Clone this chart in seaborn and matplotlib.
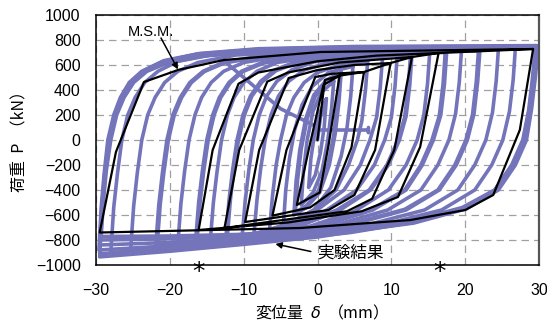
import matplotlib
matplotlib.use("Agg")
import matplotlib.pyplot as plt
import pandas as pd
import seaborn as sns

# ---------------- data ----------------
x_ticks = [-30, -20, -10, 0, 10, 20, 30]
y_ticks = [-1000, -800, -600, -400, -200, 0, 200, 400, 600, 800, 1000]

# experimental hysteresis loops (displacement mm, load kN)
exp_c01 = [(0.0, 0), (0.4, 180), (1.2, 330), (0.9, 100), (0.4, -100), (-0.3, -280), (-1.2, -380),
           (-0.9, -150), (-0.4, 50), (0.3, 220), (1.2, 330)]
exp_c02 = [(2.2, 470), (1.9, 250), (1.4, 0), (0.6, -250), (-0.6, -420), (-2.2, -520),
           (-1.9, -250), (-1.4, 0), (-0.6, 230), (0.5, 380), (2.2, 470)]
exp_c03 = [(3.2, 540), (2.9, 300), (2.4, 50), (1.6, -200), (0.3, -420), (-1.5, -540), (-3.2, -600),
           (-2.9, -330), (-2.4, -80), (-1.6, 170), (-0.5, 360), (1.2, 480), (3.2, 540)]
exp_c03b = [(3.0, 525), (2.7, 290), (2.2, 40), (1.4, -200), (0.1, -410), (-1.5, -525), (-3.0, -580),
            (-2.7, -320), (-2.2, -70), (-1.4, 170), (-0.3, 350), (1.2, 470), (3.0, 525)]
exp_c04 = [(4.8, 590), (4.5, 350), (4.0, 100), (3.2, -130), (1.8, -380), (-0.5, -560), (-2.5, -630),
           (-4.6, -660), (-4.3, -400), (-3.8, -150), (-3.1, 80), (-2.1, 280), (-0.7, 430),
           (1.5, 540), (4.8, 590)]
exp_c05 = [(6.8, 630), (6.5, 400), (6.0, 150), (5.4, 0), (4.2, -200), (2.5, -400), (-0.5, -560),
           (-4.0, -670), (-6.5, -720), (-6.1, -450), (-5.6, -200), (-5.0, 0), (-4.2, 200),
           (-3.2, 340), (-1.8, 460), (0.0, 540), (3.0, 600), (6.8, 630)]
exp_c06 = [(8.8, 660), (8.5, 420), (8.0, 180), (7.1, 0), (5.8, -200), (3.6, -400), (-0.3, -570),
           (-5.0, -690), (-8.6, -750), (-8.2, -480), (-7.7, -230), (-7.1, 0), (-6.3, 200),
           (-5.3, 350), (-3.9, 470), (-1.8, 560), (1.5, 620), (5.0, 645), (8.8, 660)]
exp_c07 = [(10.8, 680), (10.5, 430), (10.0, 180), (9.1, 0), (7.7, -200), (5.3, -400), (1.0, -570),
           (-5.0, -710), (-10.2, -770), (-9.8, -490), (-9.3, -240), (-8.7, 0), (-7.9, 200),
           (-6.9, 350), (-5.5, 470), (-3.5, 560), (-0.5, 625), (4.0, 660), (10.8, 680)]
exp_c08 = [(12.8, 690), (12.5, 440), (12.0, 190), (11.1, 0), (9.6, -200), (7.2, -400), (2.8, -570),
           (-3.0, -700), (-8.0, -755), (-12.4, -780), (-12.0, -490), (-11.5, -240), (-10.9, 0),
           (-10.1, 200), (-9.1, 350), (-7.7, 470), (-5.8, 560), (-3.0, 625), (2.0, 665), (12.8, 690)]
exp_c08b = [(12.6, 680), (12.3, 430), (11.8, 180), (10.9, 0), (9.4, -200), (7.0, -400), (2.6, -560),
            (-3.0, -690), (-8.0, -745), (-12.2, -765), (-11.8, -480), (-11.3, -230), (-10.7, 0),
            (-9.9, 200), (-8.9, 350), (-7.5, 465), (-5.6, 555), (-2.8, 618), (2.0, 655), (12.6, 680)]
exp_c09 = [(15.2, 700), (14.9, 450), (14.4, 200), (13.5, 0), (12.0, -200), (9.6, -400), (5.0, -570),
           (-1.0, -690), (-8.0, -760), (-14.5, -790), (-14.1, -500), (-13.6, -250), (-13.0, 0),
           (-12.2, 200), (-11.3, 340), (-10.0, 460), (-8.2, 550), (-5.5, 620), (-0.5, 665),
           (7.0, 690), (15.2, 700)]
exp_c10 = [(17.5, 710), (17.2, 450), (16.7, 200), (15.7, 0), (14.2, -200), (12.0, -400), (7.5, -560),
           (1.0, -680), (-6.0, -750), (-12.0, -785), (-16.5, -800), (-16.1, -500), (-15.6, -250),
           (-15.0, 0), (-14.2, 200), (-13.3, 340), (-12.0, 460), (-10.3, 550), (-7.5, 620),
           (-2.5, 670), (6.0, 695), (17.5, 710)]
exp_c10b = [(17.3, 700), (17.0, 445), (16.5, 195), (15.5, 0), (14.0, -200), (11.8, -400), (7.3, -555),
            (1.0, -672), (-6.0, -742), (-12.0, -775), (-16.3, -788), (-15.9, -495), (-15.4, -245),
            (-14.8, 0), (-14.0, 200), (-13.1, 340), (-11.8, 458), (-10.1, 548), (-7.3, 615),
            (-2.5, 663), (6.0, 688), (17.3, 700)]
exp_c11 = [(19.5, 715), (19.2, 460), (18.7, 210), (17.8, 0), (16.3, -200), (14.0, -400), (9.5, -560),
           (3.0, -670), (-5.0, -750), (-12.0, -795), (-18.9, -820), (-18.5, -510), (-18.0, -250),
           (-17.4, 0), (-16.6, 200), (-15.7, 340), (-14.4, 460), (-12.7, 550), (-10.0, 620),
           (-5.0, 670), (5.0, 700), (19.5, 715)]
exp_c12 = [(22.0, 720), (21.7, 470), (21.2, 210), (20.3, 0), (18.8, -200), (16.5, -400), (12.0, -560),
           (5.0, -670), (-3.0, -745), (-12.0, -800), (-21.9, -840), (-21.5, -520), (-21.0, -260),
           (-20.4, 0), (-19.6, 200), (-18.6, 340), (-17.3, 460), (-15.5, 550), (-12.8, 620),
           (-7.5, 675), (3.0, 705), (22.0, 720)]
exp_c12b = [(21.8, 712), (21.5, 465), (21.0, 205), (20.1, 0), (18.6, -200), (16.3, -400), (11.8, -555),
            (5.0, -662), (-3.0, -737), (-12.0, -790), (-21.7, -828), (-21.3, -515), (-20.8, -255),
            (-20.2, 0), (-19.4, 200), (-18.4, 340), (-17.1, 458), (-15.3, 548), (-12.6, 616),
            (-7.5, 668), (3.0, 698), (21.8, 712)]
exp_c13 = [(24.5, 725), (24.2, 470), (23.7, 220), (22.8, 0), (21.3, -200), (19.0, -400), (14.5, -560),
           (7.0, -675), (-2.0, -750), (-12.0, -815), (-25.3, -870), (-24.9, -530), (-24.4, -260),
           (-23.8, 0), (-23.0, 200), (-22.0, 340), (-20.7, 460), (-18.9, 550), (-16.2, 620),
           (-11.0, 680), (0.0, 715), (24.5, 725)]
exp_c14 = [(26.8, 735), (26.5, 480), (26.0, 230), (25.1, 0), (23.6, -200), (21.3, -400), (16.8, -560),
           (9.0, -675), (0.0, -760), (-10.0, -825), (-20.0, -870), (-28.0, -900), (-27.6, -540),
           (-27.1, -270), (-26.5, 0), (-25.7, 200), (-24.7, 340), (-23.4, 460), (-21.6, 550),
           (-18.9, 630), (-13.5, 690), (-3.0, 728), (10.0, 738), (26.8, 738)]
exp_c15 = [(29.6, 755), (29.2, 500), (28.7, 250), (27.9, 0), (26.4, -200), (24.0, -400), (19.6, -540),
           (12.0, -660), (5.0, -730), (0.0, -776), (-10.0, -835), (-20.0, -890), (-29.5, -935),
           (-29.2, -560), (-28.8, -280), (-28.2, 0), (-27.4, 200), (-26.5, 340), (-25.2, 460),
           (-23.4, 550), (-20.8, 635), (-16.0, 692), (-8.0, 730), (5.0, 748), (29.6, 755)]
exp_c16 = [(29.9, 748), (29.5, 500), (29.0, 250), (28.3, 0), (26.8, -200), (24.5, -400), (20.2, -550),
           (13.0, -665), (4.0, -735), (-6.0, -785), (-18.0, -840), (-29.6, -880), (-29.3, -540),
           (-28.9, -270), (-28.4, 0), (-27.6, 200), (-26.7, 340), (-25.5, 460), (-23.8, 550),
           (-21.3, 620), (-16.5, 684), (-8.0, 722), (5.0, 740), (29.9, 748)]
exp_c17 = [(29.7, 742), (29.3, 490), (28.8, 240), (28.0, 0), (26.5, -200), (24.2, -400), (19.9, -550),
           (13.0, -655), (4.0, -720), (-8.0, -765), (-20.0, -790), (-29.4, -800), (-29.1, -500),
           (-28.7, -250), (-28.1, 0), (-27.3, 200), (-26.3, 340), (-25.0, 460), (-23.2, 550),
           (-20.6, 615), (-15.5, 675), (-7.0, 712), (5.0, 732), (29.7, 742)]
exp_c18 = [(29.8, 750), (29.4, 500), (28.9, 250), (28.2, 0), (26.7, -200), (24.3, -400), (19.9, -545),
           (12.5, -662), (4.5, -740), (-5.0, -800), (-18.0, -865), (-29.5, -910), (-29.2, -550),
           (-28.8, -275), (-28.3, 0), (-27.5, 200), (-26.6, 340), (-25.3, 460), (-23.6, 550),
           (-21.0, 628), (-16.2, 688), (-8.0, 726), (5.0, 744), (29.8, 750)]
exp_c19 = [(29.7, 745), (29.3, 495), (28.8, 245), (28.1, 0), (26.6, -200), (24.2, -400), (19.8, -548),
           (13.0, -660), (4.0, -730), (-6.0, -775), (-18.0, -815), (-29.5, -840), (-29.2, -520),
           (-28.8, -260), (-28.2, 0), (-27.4, 200), (-26.4, 340), (-25.1, 460), (-23.4, 550),
           (-20.9, 618), (-16.0, 680), (-7.5, 716), (5.0, 735), (29.7, 745)]
exp_c20 = [(29.5, 738), (29.1, 488), (28.6, 238), (27.8, 0), (26.3, -200), (24.0, -400), (19.7, -548),
           (13.0, -650), (4.0, -712), (-8.0, -752), (-20.0, -768), (-29.3, -772), (-29.0, -490),
           (-28.6, -245), (-28.0, 0), (-27.2, 200), (-26.2, 340), (-24.9, 460), (-23.1, 550),
           (-20.5, 612), (-15.4, 672), (-7.0, 708), (5.0, 728), (29.5, 738)]
exp_glitch = [(-12.3, 615), (-5.0, 250), (0.1, 100), (0.1, 80), (6.9, 80), (6.9, 60), (6.9, 100)]

# M.S.M. analysis (black polyline)
msm_x = [0.0, 1.0, 3.0, 1.5, 0.3, -2.8, -1.2, 0.8, 3.0,
         6.3, 4.6, 2.3, -1.0, -6.1, -4.2, -0.3, 2.0, 6.3,
         9.9, 7.8, 5.0, 1.5, -9.8, -7.9, -3.9, 0.0, 5.0, 9.9,
         12.8, 10.4, 7.4, 4.0, -12.6, -10.6, -6.8, -4.0, 3.0, 12.8,
         16.4, 13.9, 10.9, 6.0, -4.0, -16.1, -14.2, -10.7, -8.0, 0.0, 8.0, 16.4,
         29.2, 27.4, 23.8, 20.0, 12.6, -2.3, -29.5, -27.3, -23.5, -18.9, -12.7, 0.4, 29.2]
msm_p = [0, 480, 515, -40, -420, -520, -80, 440, 515,
         544, -60, -400, -540, -605, -80, 504, 530, 544,
         616, -80, -440, -560, -656, -80, 496, 560, 600, 616,
         664, -80, -470, -570, -704, -80, 467, 540, 620, 664,
         696, -56, -456, -570, -660, -720, -80, 450, 540, 630, 675, 696,
         728, 80, -440, -560, -640, -704, -740, -96, 464, 560, 640, 704, 728]

# ---------------- build long-form table ----------------
cycles = [exp_c01, exp_c02, exp_c03, exp_c03b, exp_c04, exp_c05, exp_c06, exp_c07, exp_c08,
          exp_c08b, exp_c09, exp_c10, exp_c10b, exp_c11, exp_c12, exp_c12b, exp_c13, exp_c14,
          exp_c15, exp_c16, exp_c17, exp_c18, exp_c19, exp_c20, exp_glitch]
rows = []
for i, cyc in enumerate(cycles):
    for k, (xv, pv) in enumerate(cyc):
        rows.append({"cycle": i, "order": k, "x": xv, "p": pv})
df_exp = pd.DataFrame(rows)
df_msm = pd.DataFrame({"x": msm_x, "p": msm_p})

# ---------------- style ----------------
sns.set_theme(style="white")
plt.rcParams["font.family"] = ["Liberation Sans", "Noto Sans CJK JP", "DejaVu Sans"]
plt.rcParams["axes.unicode_minus"] = True
for key in ["text.color", "axes.labelcolor", "xtick.color", "ytick.color"]:
    plt.rcParams[key] = "black"
jp = ["Noto Sans CJK JP", "DejaVu Sans"]
purple = "#7474bb"

fig = plt.figure(figsize=(5.47, 3.24), dpi=100)
ax = fig.add_axes([96 / 547, 59 / 324, 443 / 547, 250 / 324])

sns.lineplot(data=df_exp, x="x", y="p", units="cycle", estimator=None, sort=False,
             color=purple, lw=2.6, ax=ax, legend=False, solid_joinstyle="round",
             solid_capstyle="round", zorder=2)
sns.lineplot(data=df_msm, x="x", y="p", estimator=None, sort=False, color="black",
             lw=1.6, ax=ax, legend=False, zorder=3)

ax.set_xlim(-30, 30)
ax.set_ylim(-1000, 1000)
ax.set_xticks(x_ticks)
ax.set_yticks(y_ticks)
ax.grid(True, color="#a0a0a0", linestyle=(0, (6, 4)), lw=0.9)
ax.set_axisbelow(True)
for s in ax.spines.values():
    s.set_color("black")
    s.set_linewidth(1.1)
ax.spines["right"].set_color("#555555")
ax.spines["right"].set_linewidth(1.6)
ax.tick_params(axis="x", direction="in", length=4, width=0.8, pad=13, labelsize=11.5)
ax.tick_params(axis="y", direction="in", length=4, width=0.8, pad=11, labelsize=11.5)

ax.set_xlabel("変位量  $\\delta$  （mm）", fontsize=11.5, family=jp)
ax.set_ylabel("荷重  P  （kN）", fontsize=11.5, family=jp)
ax.xaxis.set_label_coords((317 - 96) / 443, (265 - 313) / 250)
ax.xaxis.label.set_va("center")
ax.yaxis.set_label_coords((20 - 96) / 443, (265 - 138) / 250)
ax.yaxis.label.set_va("center")

# annotations
ax.text(-25.7, 864, "M.S.M.", fontsize=10.5, ha="left", va="center", family=["Liberation Sans"])
ax.annotate("", xy=(-18.9, 565), xytext=(-21.2, 816),
            arrowprops=dict(arrowstyle="-|>", color="black", lw=1.1, mutation_scale=9,
                            shrinkA=0, shrinkB=0))
ax.text(-0.1, -904, "実験結果", fontsize=12, ha="left", va="center", family=jp)
ax.annotate("", xy=(-5.7, -832), xytext=(-0.9, -892),
            arrowprops=dict(arrowstyle="-|>", color="black", lw=1.1, mutation_scale=9,
                            shrinkA=0, shrinkB=0))

# asterisks under the axis
for xs in [-16.1, 16.5]:
    ax.text(xs, -0.056, "*", transform=ax.get_xaxis_transform(), ha="center", va="baseline",
            fontsize=18, family=["DejaVu Sans"], clip_on=False)

fig.savefig("out.png", dpi=100)
